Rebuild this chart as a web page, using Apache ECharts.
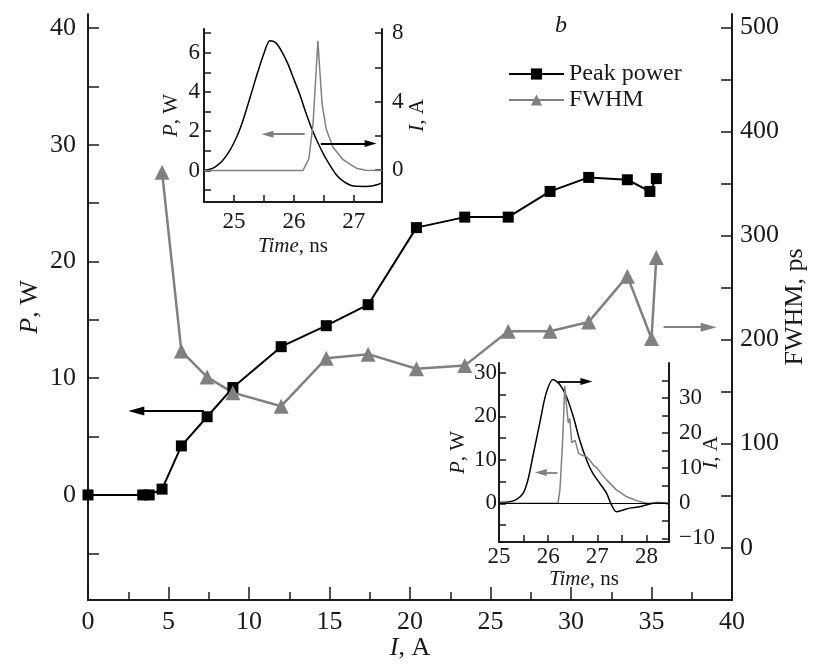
<!DOCTYPE html>
<html>
<head>
<meta charset="utf-8">
<script src="https://cdn.jsdelivr.net/npm/echarts@6/dist/echarts.min.js"></script>
<style>
  html, body { margin: 0; background: #fff; }
  #chart { width: 815px; height: 664px; }
</style>
</head>
<body>
<div id="chart"></div>
<script>
// main plot: peak power and pulse width vs pump current
const currentA = [0, 3.4, 3.8, 4.6, 5.8, 7.4, 9.0, 12.0, 14.8, 17.4, 20.4, 23.4, 26.1, 28.7, 31.1, 33.5, 34.9, 35.3]
const peakPowerW = [0, 0, 0, 0.5, 4.2, 6.7, 9.2, 12.7, 14.5, 16.3, 22.9, 23.8, 23.8, 26.0, 27.2, 27.0, 26.0, 27.1]
const fwhmCurrentA = [4.6, 5.8, 7.4, 9.0, 12.0, 14.8, 17.4, 20.4, 23.4, 26.1, 28.7, 31.1, 33.5, 35.0, 35.3]
const fwhmPs = [361, 189, 164, 149, 136, 182, 186, 172, 175, 208, 208, 217, 261, 201, 279]

// upper inset (low current)
const in1CurTime = [24.5, 24.6, 24.7, 24.8, 24.9, 25.0, 25.1, 25.2, 25.3, 25.4, 25.5, 25.6, 25.7, 25.8, 25.9, 26.0, 26.1, 26.2, 26.3, 26.4, 26.5, 26.6, 26.7, 26.8, 26.9, 27.0, 27.2, 27.3, 27.4, 27.47]
const in1Cur = [0, 0.06, 0.23, 0.52, 0.98, 1.6, 2.4, 3.45, 4.6, 5.75, 6.8, 7.55, 7.42, 6.9, 6.2, 5.3, 4.4, 3.35, 2.4, 1.6, 0.9, 0.3, -0.23, -0.58, -0.8, -0.92, -0.94, -0.92, -0.83, -0.75]
const in1PowTime = [24.5, 26.15, 26.25, 26.32, 26.37, 26.4, 26.43, 26.47, 26.54, 26.65, 26.82, 27.04, 27.2, 27.47]
const in1Pow = [0, 0, 0.6, 2.4, 5.0, 6.6, 5.2, 3.4, 2.1, 1.2, 0.55, 0.12, 0.02, 0]

// lower inset (high current)
const in2CurTime = [25.0, 25.22, 25.35, 25.49, 25.59, 25.69, 25.83, 25.96, 26.1, 26.24, 26.37, 26.51, 26.64, 26.78, 26.91, 27.05, 27.19, 27.29, 27.39, 27.49, 27.66, 27.86, 28.07, 28.24, 28.46]
const in2Cur = [0.2, 0.4, 1.0, 2.8, 6.7, 13.4, 22.9, 31.4, 35.3, 33.8, 30.5, 24.8, 18.1, 12.4, 8.5, 5.7, 2.8, -0.5, -2.4, -2.1, -1.4, -1.0, -0.2, 0.2, -0.2]
const in2PowTime = [25.0, 26.2, 26.24, 26.29, 26.34, 26.37, 26.41, 26.44, 26.48, 26.55, 26.62, 26.7, 26.78, 26.85, 26.92, 26.98, 27.02, 27.08, 27.19, 27.39, 27.6, 27.86, 28.0, 28.46]
const in2Pow = [0, 0, 3.1, 13.1, 27.0, 23.0, 18.5, 19.5, 14.0, 14.5, 11.5, 11.0, 10.8, 9.9, 8.8, 8.3, 8.3, 6.9, 5.4, 3.1, 1.5, 0.4, 0, 0]

const FONT = 'Liberation Serif, Times New Roman, serif'
const INK = '#1a1a1a'
const GRAY = '#808080'
const HEAD = 'path://M5,0 L10,18 L0,18 Z'

const zip = (xs, ys) => xs.map((x, i) => [x, ys[i]])

function axisBase(o) {
  return Object.assign({
    type: 'value',
    scale: true,
    splitLine: { show: false },
    axisLine: { show: true, onZero: false, lineStyle: { color: INK, width: 2 } },
    axisTick: { show: true, inside: true, length: 7, lineStyle: { color: INK, width: 1.5 } },
    axisLabel: { color: INK, fontFamily: FONT, fontSize: 23, margin: 8 },
    nameTextStyle: { color: INK, fontFamily: FONT, fontSize: 21, rich: { i: { fontStyle: 'italic', fontFamily: FONT, fontSize: 21, color: INK } } },
    nameLocation: 'middle',
    nameMoveOverlap: false
  }, o)
}

function ticks(o, tickVals, labelVals) {
  o.axisTick = Object.assign({}, o.axisTick, { customValues: tickVals })
  o.axisLabel = Object.assign({}, o.axisLabel, { customValues: labelVals })
  return o
}

// a straight arrow drawn in data coordinates (head is centred on `to`)
function arrowItem(from, to, color, w, h) {
  return [
    { coord: from, symbol: 'none', lineStyle: { color: color, width: 1.8, type: 'solid' } },
    { coord: to, symbol: HEAD, symbolSize: [w, h] }
  ]
}

function marks(items) {
  return {
    silent: true,
    animation: false,
    symbol: ['none', HEAD],
    label: { show: false },
    emphasis: { disabled: true },
    data: items
  }
}

const mainTickFont = { fontSize: 26 }
const mainName = { fontSize: 26, rich: { i: { fontStyle: 'italic', fontFamily: FONT, fontSize: 26, color: INK } } }

const xMain = axisBase({ gridIndex: 0, min: 0, max: 40, interval: 5, name: '{i|I}, A', nameGap: 35 })
xMain.axisTick = Object.assign({}, xMain.axisTick, { length: 13 })
xMain.minorTick = { show: true, splitNumber: 2, length: 8, lineStyle: { color: INK, width: 1.5 } }
Object.assign(xMain.axisLabel, mainTickFont, { margin: 9 })
Object.assign(xMain.nameTextStyle, mainName)

const yLeft = ticks(axisBase({ gridIndex: 0, min: -9, max: 41.2, name: '{i|P}, W', nameGap: 45 }),
  [-5, 0, 5, 10, 15, 20, 25, 30, 35, 40], [0, 10, 20, 30, 40])
yLeft.axisTick.length = 11
Object.assign(yLeft.axisLabel, mainTickFont, { margin: 12 })
Object.assign(yLeft.nameTextStyle, mainName)

const yRight = ticks(axisBase({ gridIndex: 0, position: 'right', min: -50.3, max: 513, name: 'FWHM, ps', nameGap: 50 }),
  [0, 50, 100, 150, 200, 250, 300, 350, 400, 450, 500], [0, 100, 200, 300, 400, 500])
yRight.axisTick.length = 11
Object.assign(yRight.axisLabel, mainTickFont, { margin: 8 })
Object.assign(yRight.nameTextStyle, mainName)

const x1 = ticks(axisBase({ gridIndex: 1, min: 24.5, max: 27.47, name: '{i|Time}, ns', nameGap: 34 }),
  [25, 25.5, 26, 26.5, 27], [25, 26, 27])
const y1L = ticks(axisBase({ gridIndex: 1, min: -1.6, max: 7.2, name: '{i|P}, W', nameGap: 22 }),
  [-1, 0, 1, 2, 3, 4, 5, 6, 7], [0, 2, 4, 6])
y1L.axisLabel.margin = 4
const y1R = ticks(axisBase({ gridIndex: 1, position: 'right', min: -1.85, max: 8.23, name: '{i|I}, A', nameGap: 25 }),
  [0, 2, 4, 6, 8], [0, 4, 8])
y1R.axisLabel.margin = 10

const x2 = ticks(axisBase({ gridIndex: 2, min: 25, max: 28.46, name: '{i|Time}, ns', nameGap: 27 }),
  [25.5, 26, 26.5, 27, 27.5, 28], [25, 26, 27, 28])
x2.axisLabel.margin = 3
const y2L = ticks(axisBase({ gridIndex: 2, min: -8.9, max: 32.3, name: '{i|P}, W', nameGap: 30 }),
  [-5, 0, 5, 10, 15, 20, 25, 30], [0, 10, 20, 30])
y2L.axisLabel.margin = 2
const y2R = ticks(axisBase({ gridIndex: 2, position: 'right', min: -11.06, max: 40, name: '{i|I}, A', nameGap: 32 }),
  [-10, -5, 0, 5, 10, 15, 20, 25, 30, 35], [-10, 0, 10, 20, 30])
y2R.axisLabel.margin = 10
y2R.axisLabel.formatter = v => (v < 0 ? '\u2212' + Math.abs(v) : String(v))

const option = {
  animation: false,
  backgroundColor: '#fff',
  grid: [
    { left: 88, right: 83, top: 14, bottom: 64, outerBoundsMode: 'none', containLabel: false },
    { left: 204, top: 29, width: 178, height: 173, outerBoundsMode: 'none', containLabel: false },
    { left: 499, top: 363, width: 170, height: 179, outerBoundsMode: 'none', containLabel: false }
  ],
  legend: {
    data: ['Peak power', 'FWHM'],
    orient: 'vertical',
    left: 503,
    top: 57,
    itemWidth: 55,
    itemHeight: 14,
    itemGap: 2,
    textStyle: { fontFamily: FONT, fontSize: 24, color: INK }
  },
  graphic: [
    { type: 'text', left: 555, top: 14, style: { text: 'b', font: 'italic 24px ' + FONT, fill: INK } }
  ],
  xAxis: [xMain, x1, x2],
  yAxis: [yLeft, yRight, y1L, y1R, y2L, y2R],
  series: [
    {
      name: 'Peak power',
      type: 'line',
      xAxisIndex: 0,
      yAxisIndex: 0,
      data: zip(currentA, peakPowerW),
      symbol: 'rect',
      symbolSize: 11,
      itemStyle: { color: '#000' },
      lineStyle: { color: '#000', width: 2 },
      markLine: marks([arrowItem([7.2, 7.2], [3.0, 7.2], '#000', 9, 16)])
    },
    {
      name: 'FWHM',
      type: 'line',
      xAxisIndex: 0,
      yAxisIndex: 1,
      data: zip(fwhmCurrentA, fwhmPs),
      symbol: 'triangle',
      symbolSize: 15,
      itemStyle: { color: GRAY },
      lineStyle: { color: GRAY, width: 2.5 },
      markLine: marks([arrowItem([35.75, 212], [38.55, 212], GRAY, 9, 16)])
    },
    {
      type: 'line',
      xAxisIndex: 1,
      yAxisIndex: 3,
      data: zip(in1CurTime, in1Cur),
      showSymbol: false,
      smooth: 0.3,
      lineStyle: { color: '#000', width: 1.5 },
      markLine: marks([arrowItem([26.45, 1.56], [27.28, 1.56], '#000', 7, 12)])
    },
    {
      type: 'line',
      xAxisIndex: 1,
      yAxisIndex: 2,
      data: zip(in1PowTime, in1Pow),
      showSymbol: false,
      lineStyle: { color: GRAY, width: 1.5 },
      markLine: marks([arrowItem([26.18, 1.85], [25.56, 1.85], GRAY, 7, 12)])
    },
    {
      type: 'line',
      xAxisIndex: 2,
      yAxisIndex: 5,
      data: zip(in2CurTime, in2Cur),
      showSymbol: false,
      smooth: 0.3,
      lineStyle: { color: '#000', width: 1.5 },
      markLine: marks([arrowItem([26.2, 34.7], [26.78, 34.7], '#000', 7, 12)])
    },
    {
      type: 'line',
      xAxisIndex: 2,
      yAxisIndex: 4,
      data: zip(in2PowTime, in2Pow),
      showSymbol: false,
      lineStyle: { color: GRAY, width: 1.5 },
      markLine: marks([
        arrowItem([26.19, 7.07], [25.85, 7.07], GRAY, 7, 12),
        [
          { coord: [25, 0], symbol: 'none', lineStyle: { color: '#000', width: 1, type: 'solid' } },
          { coord: [28.46, 0], symbol: 'none' }
        ]
      ])
    }
  ]
}

const chart = echarts.init(document.getElementById('chart'))
chart.setOption(option)
</script>
</body>
</html>
